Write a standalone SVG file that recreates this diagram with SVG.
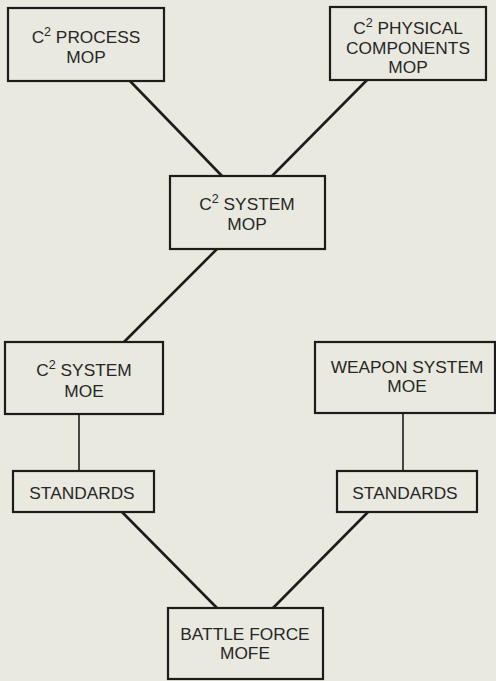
<svg xmlns="http://www.w3.org/2000/svg" width="496" height="681" viewBox="0 0 496 681">
  <style>
    .box { fill: none; stroke: #1c1c1c; stroke-width: 2.2; }
    .lbl { font-family: "Liberation Sans", Arial, sans-serif; font-size: 17.3px; fill: #262626; text-anchor: middle; }
    .sup { font-size: 12.5px; }
    .link { stroke: #1c1c1c; stroke-width: 2.6; fill: none; }
    .stem { stroke: #1c1c1c; stroke-width: 1.6; fill: none; }
  </style>
  <rect width="496" height="681" fill="#e9e9df"/>

  <g id="connectors">
    <line class="link" x1="130" y1="81" x2="222" y2="176"/>
    <line class="link" x1="367" y1="80" x2="272" y2="176"/>
    <line class="link" x1="217" y1="249" x2="124" y2="342"/>
    <line class="stem" x1="79" y1="414" x2="79" y2="471"/>
    <line class="stem" x1="403" y1="414" x2="403" y2="471"/>
    <line class="link" x1="122" y1="512" x2="217" y2="608"/>
    <line class="link" x1="368" y1="512" x2="273" y2="608"/>
  </g>

  <g id="c2-process-mop">
    <rect class="box" x="8" y="8" width="156" height="73"/>
    <text class="lbl" x="86" y="43">C<tspan class="sup" dy="-7">2</tspan><tspan dy="7"> PROCESS</tspan></text>
    <text class="lbl" x="86" y="63">MOP</text>
  </g>

  <g id="c2-physical-components-mop">
    <rect class="box" x="330" y="7" width="156" height="73"/>
    <text class="lbl" x="408" y="34">C<tspan class="sup" dy="-7">2</tspan><tspan dy="7"> PHYSICAL</tspan></text>
    <text class="lbl" x="408" y="54">COMPONENTS</text>
    <text class="lbl" x="408" y="73">MOP</text>
  </g>

  <g id="c2-system-mop">
    <rect class="box" x="170" y="176" width="155" height="73"/>
    <text class="lbl" x="247" y="210">C<tspan class="sup" dy="-7">2</tspan><tspan dy="7"> SYSTEM</tspan></text>
    <text class="lbl" x="247" y="230">MOP</text>
  </g>

  <g id="c2-system-moe">
    <rect class="box" x="5" y="342" width="158" height="72"/>
    <text class="lbl" x="84" y="376">C<tspan class="sup" dy="-7">2</tspan><tspan dy="7"> SYSTEM</tspan></text>
    <text class="lbl" x="84" y="397">MOE</text>
  </g>

  <g id="weapon-system-moe">
    <rect class="box" x="315" y="342" width="180" height="71"/>
    <text class="lbl" x="407" y="373">WEAPON SYSTEM</text>
    <text class="lbl" x="407" y="392">MOE</text>
  </g>

  <g id="standards-left">
    <rect class="box" x="13" y="471" width="141" height="41"/>
    <text class="lbl" x="82" y="499">STANDARDS</text>
  </g>

  <g id="standards-right">
    <rect class="box" x="337" y="471" width="140" height="41"/>
    <text class="lbl" x="405" y="499">STANDARDS</text>
  </g>

  <g id="battle-force-mofe">
    <rect class="box" x="168" y="608" width="155" height="71"/>
    <text class="lbl" x="245" y="640">BATTLE FORCE</text>
    <text class="lbl" x="245" y="659">MOFE</text>
  </g>
</svg>
